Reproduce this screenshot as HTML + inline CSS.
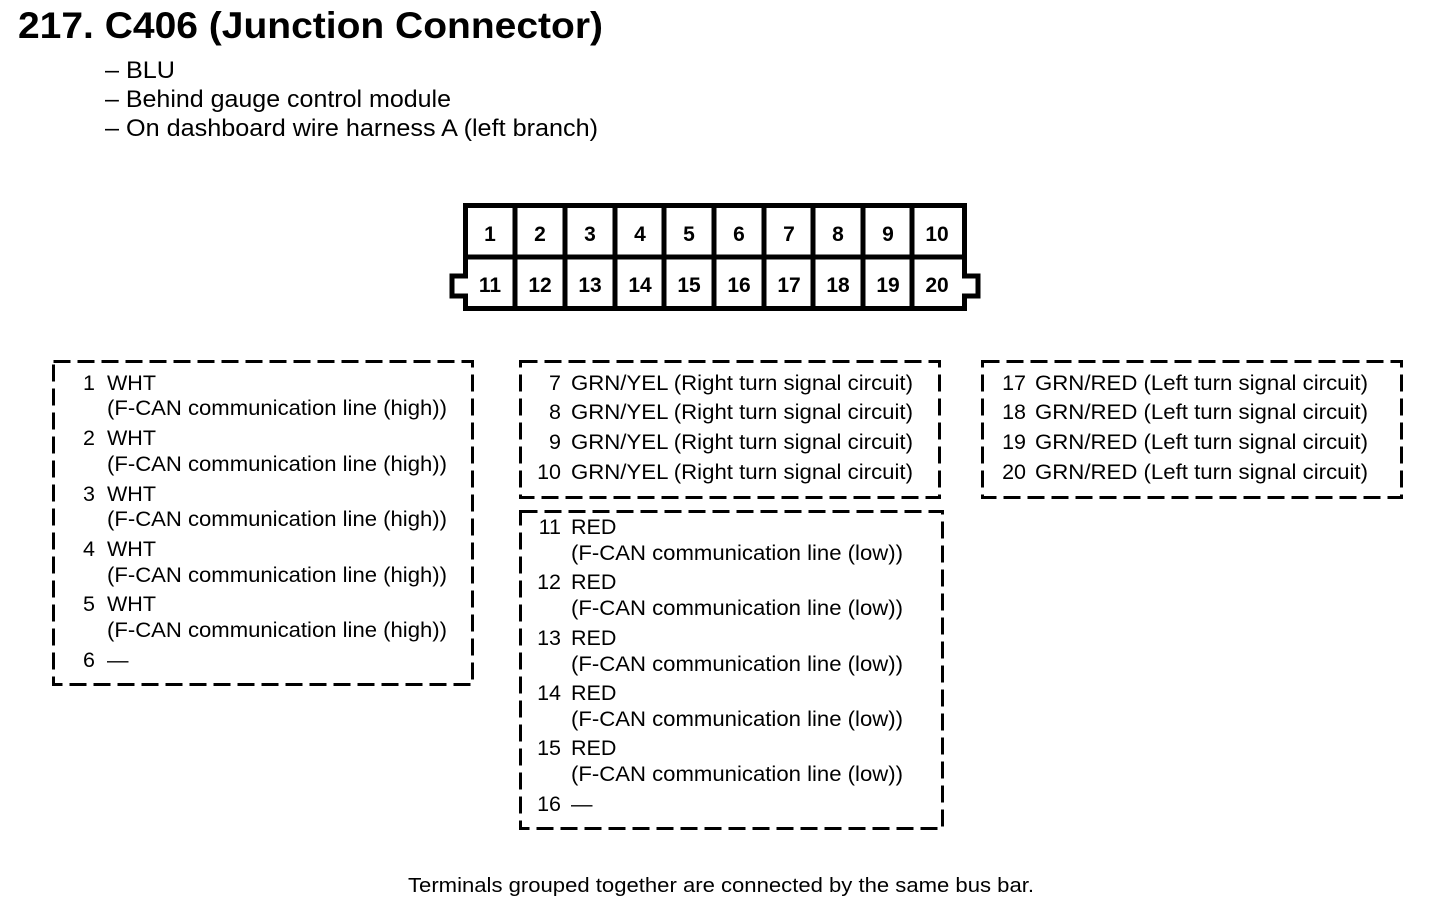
<!DOCTYPE html>
<html><head><meta charset="utf-8"><style>
html,body{margin:0;padding:0;background:#fff;width:1440px;height:908px;overflow:hidden}
svg{display:block}
text{font-family:"Liberation Sans",Arial,sans-serif;fill:#000}
.t{font-size:21.5px}
.s{font-size:24px}
.n{font-size:21px;font-weight:bold;text-anchor:middle}
.d{fill:none;stroke:#000;stroke-width:3;stroke-dasharray:17 7}
</style></head><body>
<svg width="1440" height="908" viewBox="0 0 1440 908">
<text x="18" y="38" font-size="37" font-weight="bold" textLength="585" lengthAdjust="spacingAndGlyphs">217. C406 (Junction Connector)</text>
<text class="s" x="105" y="78" textLength="70" lengthAdjust="spacingAndGlyphs">– BLU</text>
<text class="s" x="105" y="107" textLength="346" lengthAdjust="spacingAndGlyphs">– Behind gauge control module</text>
<text class="s" x="105" y="136" textLength="493" lengthAdjust="spacingAndGlyphs">– On dashboard wire harness A (left branch)</text>

<!-- connector -->
<g fill="none" stroke="#000" stroke-width="5">
<path d="M465.5 205.5 H964.5 V276 H978 V296 H964.5 V308.5 H465.5 V296 H452 V276 H465.5 Z"/>
<line x1="465" y1="257" x2="965" y2="257"/>
<line x1="515" y1="205" x2="515" y2="309"/>
<line x1="565" y1="205" x2="565" y2="309"/>
<line x1="615" y1="205" x2="615" y2="309"/>
<line x1="664" y1="205" x2="664" y2="309"/>
<line x1="714" y1="205" x2="714" y2="309"/>
<line x1="764" y1="205" x2="764" y2="309"/>
<line x1="813" y1="205" x2="813" y2="309"/>
<line x1="863" y1="205" x2="863" y2="309"/>
<line x1="912" y1="205" x2="912" y2="309"/>
</g>
<g class="n">
<text class="n" x="490" y="241">1</text><text class="n" x="540" y="241">2</text><text class="n" x="590" y="241">3</text><text class="n" x="640" y="241">4</text><text class="n" x="689" y="241">5</text><text class="n" x="739" y="241">6</text><text class="n" x="789" y="241">7</text><text class="n" x="838" y="241">8</text><text class="n" x="888" y="241">9</text><text class="n" x="937" y="241">10</text>
<text class="n" x="490" y="292">11</text><text class="n" x="540" y="292">12</text><text class="n" x="590" y="292">13</text><text class="n" x="640" y="292">14</text><text class="n" x="689" y="292">15</text><text class="n" x="739" y="292">16</text><text class="n" x="789" y="292">17</text><text class="n" x="838" y="292">18</text><text class="n" x="888" y="292">19</text><text class="n" x="937" y="292">20</text>
</g>

<!-- boxes -->
<rect class="d" x="53.5" y="361.5" width="419" height="323"/>
<rect class="d" x="520.5" y="361.5" width="419" height="136"/>
<rect class="d" x="520.5" y="511.5" width="422" height="317"/>
<rect class="d" x="982.5" y="361.5" width="419" height="136"/>

<g class="t">
<text class="t" x="95" y="390" text-anchor="end">1</text><text class="t" x="107" y="390">WHT</text>
<text class="t" x="107" y="415" textLength="340" lengthAdjust="spacingAndGlyphs">(F-CAN communication line (high))</text>
<text class="t" x="95" y="445" text-anchor="end">2</text><text class="t" x="107" y="445">WHT</text>
<text class="t" x="107" y="471" textLength="340" lengthAdjust="spacingAndGlyphs">(F-CAN communication line (high))</text>
<text class="t" x="95" y="501" text-anchor="end">3</text><text class="t" x="107" y="501">WHT</text>
<text class="t" x="107" y="526" textLength="340" lengthAdjust="spacingAndGlyphs">(F-CAN communication line (high))</text>
<text class="t" x="95" y="556" text-anchor="end">4</text><text class="t" x="107" y="556">WHT</text>
<text class="t" x="107" y="582" textLength="340" lengthAdjust="spacingAndGlyphs">(F-CAN communication line (high))</text>
<text class="t" x="95" y="611" text-anchor="end">5</text><text class="t" x="107" y="611">WHT</text>
<text class="t" x="107" y="637" textLength="340" lengthAdjust="spacingAndGlyphs">(F-CAN communication line (high))</text>
<text class="t" x="95" y="667" text-anchor="end">6</text><text class="t" x="107" y="667">—</text>

<text class="t" x="561" y="390" text-anchor="end">7</text><text class="t" x="571" y="390" textLength="342" lengthAdjust="spacingAndGlyphs">GRN/YEL (Right turn signal circuit)</text>
<text class="t" x="561" y="419" text-anchor="end">8</text><text class="t" x="571" y="419" textLength="342" lengthAdjust="spacingAndGlyphs">GRN/YEL (Right turn signal circuit)</text>
<text class="t" x="561" y="449" text-anchor="end">9</text><text class="t" x="571" y="449" textLength="342" lengthAdjust="spacingAndGlyphs">GRN/YEL (Right turn signal circuit)</text>
<text class="t" x="561" y="479" text-anchor="end">10</text><text class="t" x="571" y="479" textLength="342" lengthAdjust="spacingAndGlyphs">GRN/YEL (Right turn signal circuit)</text>

<text class="t" x="561" y="534" text-anchor="end">11</text><text class="t" x="571" y="534">RED</text>
<text class="t" x="571" y="560" textLength="332" lengthAdjust="spacingAndGlyphs">(F-CAN communication line (low))</text>
<text class="t" x="561" y="589" text-anchor="end">12</text><text class="t" x="571" y="589">RED</text>
<text class="t" x="571" y="615" textLength="332" lengthAdjust="spacingAndGlyphs">(F-CAN communication line (low))</text>
<text class="t" x="561" y="645" text-anchor="end">13</text><text class="t" x="571" y="645">RED</text>
<text class="t" x="571" y="671" textLength="332" lengthAdjust="spacingAndGlyphs">(F-CAN communication line (low))</text>
<text class="t" x="561" y="700" text-anchor="end">14</text><text class="t" x="571" y="700">RED</text>
<text class="t" x="571" y="726" textLength="332" lengthAdjust="spacingAndGlyphs">(F-CAN communication line (low))</text>
<text class="t" x="561" y="755" text-anchor="end">15</text><text class="t" x="571" y="755">RED</text>
<text class="t" x="571" y="781" textLength="332" lengthAdjust="spacingAndGlyphs">(F-CAN communication line (low))</text>
<text class="t" x="561" y="811" text-anchor="end">16</text><text class="t" x="571" y="811">—</text>

<text class="t" x="1026" y="390" text-anchor="end">17</text><text class="t" x="1035" y="390" textLength="333" lengthAdjust="spacingAndGlyphs">GRN/RED (Left turn signal circuit)</text>
<text class="t" x="1026" y="419" text-anchor="end">18</text><text class="t" x="1035" y="419" textLength="333" lengthAdjust="spacingAndGlyphs">GRN/RED (Left turn signal circuit)</text>
<text class="t" x="1026" y="449" text-anchor="end">19</text><text class="t" x="1035" y="449" textLength="333" lengthAdjust="spacingAndGlyphs">GRN/RED (Left turn signal circuit)</text>
<text class="t" x="1026" y="479" text-anchor="end">20</text><text class="t" x="1035" y="479" textLength="333" lengthAdjust="spacingAndGlyphs">GRN/RED (Left turn signal circuit)</text>
</g>

<text x="408" y="892" font-size="20" textLength="626" lengthAdjust="spacingAndGlyphs">Terminals grouped together are connected by the same bus bar.</text>
</svg>
</body></html>
